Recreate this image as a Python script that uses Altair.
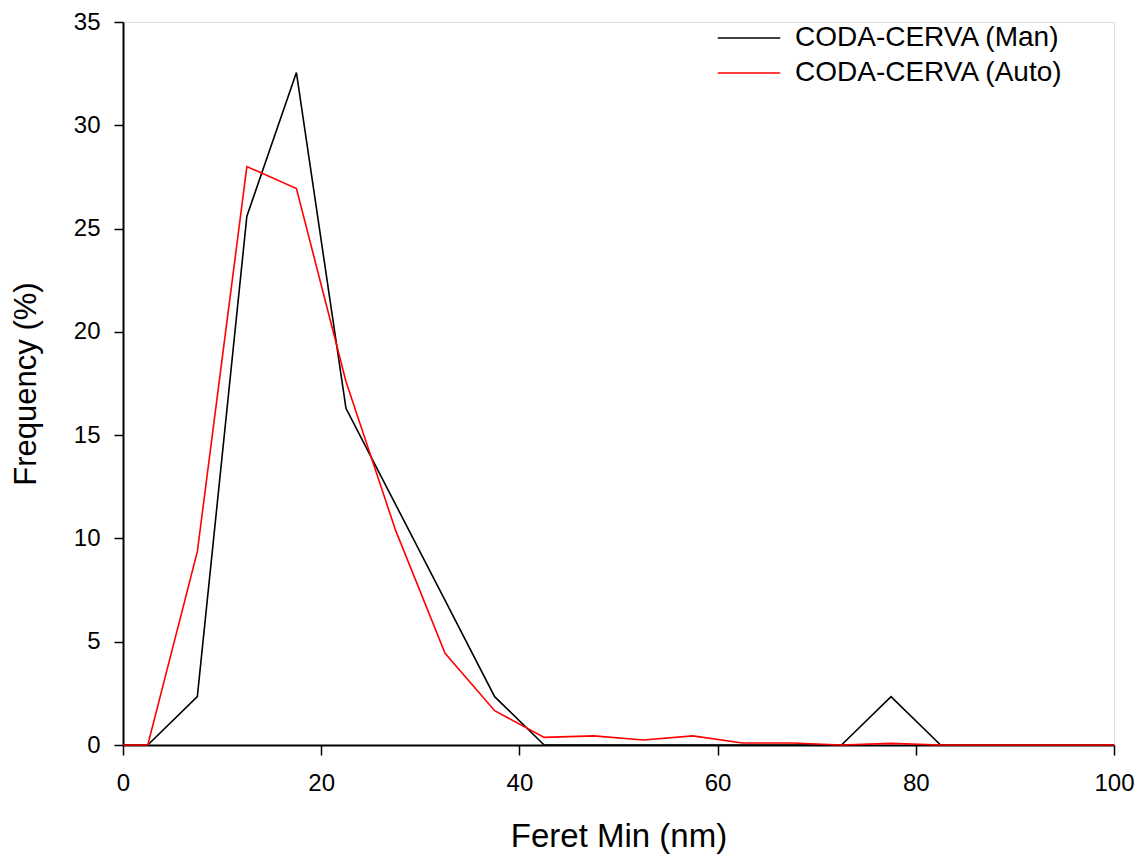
import altair as alt
import pandas as pd

# x positions (bin centres, nm)
feret_min = [0, 2.5, 7.5, 12.5, 17.5, 22.5, 27.5, 32.5, 37.5, 42.5, 47.5,
             52.5, 57.5, 62.5, 67.5, 72.5, 77.5, 82.5, 87.5, 92.5, 97.5, 100]
# frequency (%) - manual counting
freq_man = [0, 0, 2.34, 25.6, 32.55, 16.3, 11.65, 7.0, 2.34, 0, 0,
            0, 0, 0, 0, 0, 2.34, 0, 0, 0, 0, 0]
# frequency (%) - automatic counting
freq_auto = [0, 0, 9.36, 28.0, 26.94, 17.6, 10.4, 4.44, 1.66, 0.37, 0.44,
             0.24, 0.44, 0.1, 0.1, 0, 0.08, 0, 0, 0, 0, 0]

series_names = ["CODA-CERVA (Man)", "CODA-CERVA (Auto)"]
series_colors = ["#000000", "#ff0000"]

rows = []
for x, m, a in zip(feret_min, freq_man, freq_auto):
    rows.append({"x": x, "y": m, "series": series_names[0]})
    rows.append({"x": x, "y": a, "series": series_names[1]})
df = pd.DataFrame(rows)

FONT = "Liberation Sans"

color = alt.Color(
    "series:N",
    scale=alt.Scale(domain=series_names, range=series_colors),
    legend=alt.Legend(
        title=None,
        orient="none",
        legendX=612,
        legendY=2,
        symbolType="M-2.5,0H2.5",
        symbolSize=625,
        symbolStrokeWidth=1.6,
        labelFontSize=28,
        labelFont=FONT,
        labelColor="#000000",
        labelOffset=32,
        labelLimit=0,
        rowPadding=7,
    ),
)

xenc = alt.X(
    "x:Q",
    scale=alt.Scale(domain=[0, 100], nice=False, zero=False),
    axis=alt.Axis(
        title="Feret Min (nm)",
        values=[0, 20, 40, 60, 80, 100],
        grid=False,
        tickSize=10,
        tickWidth=1.5,
        domainWidth=2,
        domainColor="#000000",
        tickColor="#000000",
        labelFontSize=24,
        labelFont=FONT,
        labelColor="#000000",
        labelPadding=16,
        labelFlush=False,
        titleFontSize=33,
        titleFont=FONT,
        titleFontWeight="normal",
        titleColor="#000000",
        titlePadding=25,
    ),
)
yenc = alt.Y(
    "y:Q",
    scale=alt.Scale(domain=[0, 35], nice=False),
    axis=alt.Axis(
        title="Frequency (%)",
        values=[0, 5, 10, 15, 20, 25, 30, 35],
        grid=False,
        tickSize=9,
        tickWidth=1.5,
        domainWidth=2,
        domainColor="#000000",
        tickColor="#000000",
        labelFontSize=24,
        labelFont=FONT,
        labelColor="#000000",
        labelPadding=14,
        labelFlush=False,
        titleFontSize=31,
        titleFont=FONT,
        titleFontWeight="normal",
        titleColor="#000000",
        titlePadding=31,
    ),
)

base = alt.Chart(df)
man = base.transform_filter(alt.datum.series == series_names[0]).mark_line(
    strokeWidth=1.6
).encode(x=xenc, y=yenc, color=color, order="x:Q")
auto = base.transform_filter(alt.datum.series == series_names[1]).mark_line(
    strokeWidth=1.6
).encode(x=xenc, y=yenc, color=color, order="x:Q")

chart = (
    alt.layer(man, auto)
    .properties(
        width=991,
        height=723,
        autosize=alt.AutoSizeParams(type="none"),
        padding={"left": 115, "top": 14, "right": 21, "bottom": 109},
    )
    .configure_view(stroke=None)
    .configure(font=FONT)
)

chart.save("out.html", embed_options={"renderer": "svg", "actions": False})
